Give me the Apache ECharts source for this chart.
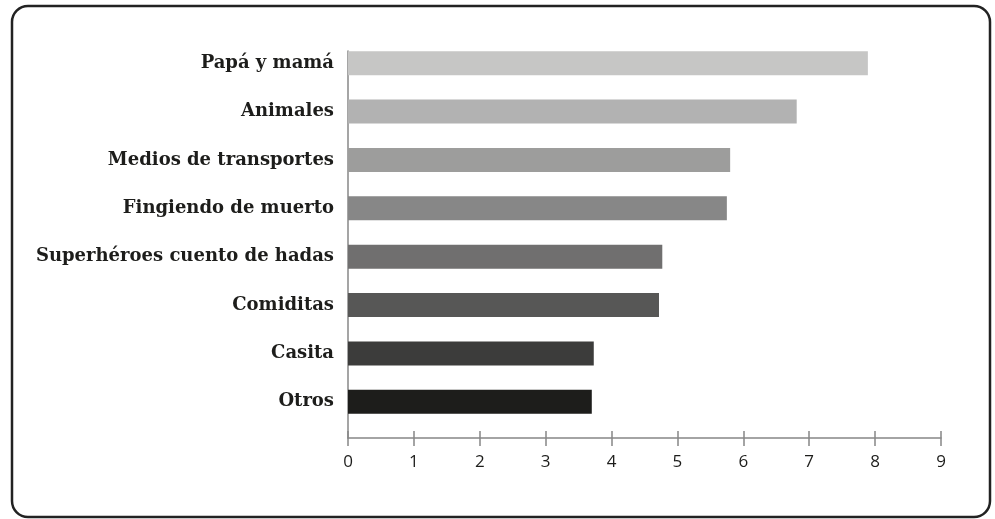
<!DOCTYPE html>
<html>
<head>
<meta charset="utf-8">
<script src="https://cdn.jsdelivr.net/npm/echarts@6/dist/echarts.min.js"></script>
<style>
  html, body { margin: 0; padding: 0; background: #fff; }
  #main { width: 995px; height: 519px; }
</style>
</head>
<body>
<div id="main"></div>
<script>
  // categories top to bottom
  var categories = ['Papá y mamá', 'Animales', 'Medios de transportes', 'Fingiendo de muerto',
    'Superhéroes cuento de hadas', 'Comiditas', 'Casita', 'Otros'];
  var values = [7.89, 6.81, 5.80, 5.75, 4.77, 4.72, 3.73, 3.70];
  var barColors = ['#c6c6c5', '#b2b2b2', '#9d9d9c', '#878787', '#706f6f', '#575756', '#3c3c3b', '#1d1d1b'];
  var spacer = [0, 0, 0, 0, 0, 0, 0, 0];

  var myChart = echarts.init(document.getElementById('main'));

  /**
   * @name buildData
   * @desc one entry per bar with its own grey
   */
  function buildData() {
    return values.map(function (v, i) {
      return { value: v, itemStyle: { color: barColors[i] } };
    });
  }

  var axisGrey = '#878787';

  var option = {
    backgroundColor: '#fff',
    animation: false,
    grid: { left: 348, right: 54, top: 51, bottom: 81 },
    xAxis: [{
      type: 'value',
      min: 0,
      max: 9,
      interval: 1,
      position: 'bottom',
      splitLine: { show: false },
      axisLine: { show: true, lineStyle: { color: axisGrey, width: 1.5 } },
      axisTick: { show: true, length: 8, lineStyle: { color: axisGrey, width: 1.5 } },
      axisLabel: { color: '#1d1d1b', fontFamily: 'Open Sans', fontSize: 17, margin: 16 }
    }, {
      type: 'value',
      min: 0,
      max: 9,
      interval: 1,
      position: 'bottom',
      offset: 0,
      splitLine: { show: false },
      axisLine: { show: false },
      axisTick: { show: true, inside: true, length: 7, lineStyle: { color: axisGrey, width: 1.5 } },
      axisLabel: { show: false }
    }],
    yAxis: {
      type: 'category',
      inverse: true,
      data: categories,
      axisLine: { show: true, lineStyle: { color: axisGrey, width: 1.5 } },
      axisTick: { show: false },
      axisLabel: {
        color: '#1d1d1b',
        fontFamily: 'DejaVu Serif',
        fontWeight: 'bold',
        fontSize: 18,
        margin: 14,
        // lift each label to sit beside its bar, which hugs the top of its band
        verticalAlign: 'bottom',
        lineHeight: 24
      }
    },
    series: [{
      type: 'bar',
      barWidth: 24,
      barGap: '0%',
      data: buildData()
    }, {
      type: 'bar',
      barWidth: 24,
      silent: true,
      itemStyle: { color: 'rgba(0,0,0,0)' },
      data: spacer
    }],
    graphic: [{
      type: 'rect',
      shape: { x: 12, y: 6, width: 978, height: 511, r: 16 },
      style: { fill: 'none', stroke: '#222', lineWidth: 2.5 },
      silent: true
    }]
  };

  myChart.setOption(option);
</script>
</body>
</html>
